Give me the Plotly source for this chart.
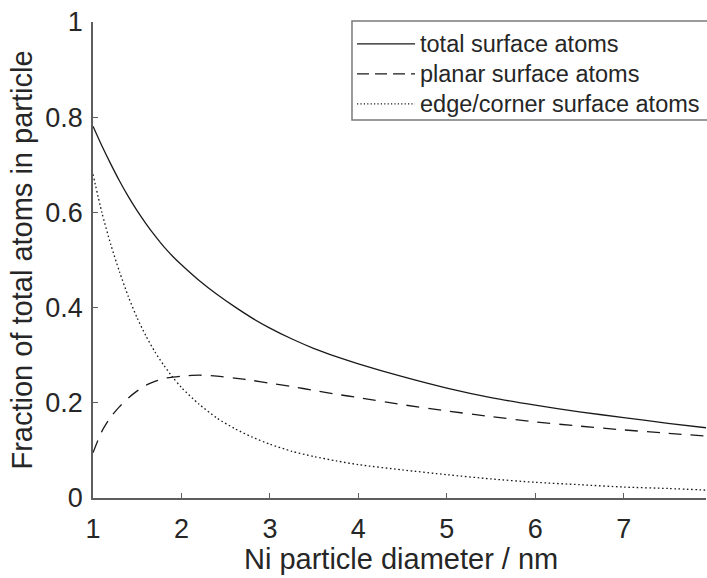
import plotly.graph_objects as go

# ---- data ----
diameter_nm = [1.0, 1.1, 1.2, 1.3, 1.4, 1.5, 1.6, 1.7, 1.8, 1.9, 2.0, 2.2, 2.4, 2.6,
               2.8, 3.0, 3.25, 3.5, 3.75, 4.0, 4.5, 5.0, 5.5, 6.0, 6.5, 7.0, 7.5, 8.0]
total_surface = [0.781, 0.740, 0.702, 0.666, 0.633, 0.603, 0.576, 0.551, 0.528, 0.508,
                 0.490, 0.457, 0.428, 0.402, 0.378, 0.357, 0.334, 0.314, 0.297, 0.282,
                 0.255, 0.231, 0.211, 0.195, 0.181, 0.169, 0.157, 0.146]
planar_surface = [0.095, 0.140, 0.170, 0.192, 0.210, 0.225, 0.237, 0.245, 0.251, 0.254,
                  0.256, 0.258, 0.256, 0.252, 0.247, 0.241, 0.234, 0.226, 0.218, 0.211,
                  0.196, 0.183, 0.171, 0.160, 0.151, 0.143, 0.136, 0.129]
edge_corner_surface = [0.680, 0.600, 0.533, 0.475, 0.423, 0.378, 0.340, 0.307, 0.279, 0.254,
                       0.232, 0.197, 0.168, 0.146, 0.128, 0.113, 0.098, 0.087, 0.078, 0.070,
                       0.059, 0.049, 0.040, 0.033, 0.028, 0.023, 0.020, 0.016]
series_names = ["total surface atoms", "planar surface atoms", "edge/corner surface atoms"]
x_tick_values = [1, 2, 3, 4, 5, 6, 7]
y_tick_values = [0, 0.2, 0.4, 0.6, 0.8, 1.0]
y_tick_labels = ["0", "0.2", "0.4", "0.6", "0.8", "1"]
x_title = "Ni particle diameter / nm"
y_title = "Fraction of total atoms in particle"

FONT = "Liberation Sans, Arial, Helvetica, sans-serif"
TXT = "#262626"
AX = "#5e5e5e"

series = [total_surface, planar_surface, edge_corner_surface]
dashes = ["solid", "13px,9px", "1.6px,2.6px"]
legend_dashes = ["solid", "12px,6px", "1.2px,2.2px"]

fig = go.Figure()
for name, ys, dash in zip(series_names, series, dashes):
    fig.add_trace(go.Scatter(
        x=diameter_nm, y=ys, name=name, mode="lines",
        line=dict(color="#1a1a1a", width=1.3, dash=dash, shape="spline", smoothing=0.7),
        showlegend=False,
    ))

# manual legend (box, line samples, labels) in paper coordinates
L, R, T, B = 0.4225, 1.003, 1.002, 0.794
fig.add_shape(type="rect", xref="paper", yref="paper", x0=L, x1=R, y0=B, y1=T,
              line=dict(color="#7a7a7a", width=1.5), fillcolor="white", layer="above")
row_y = [0.954, 0.891, 0.828]
for name, dash, yy in zip(series_names, legend_dashes, row_y):
    fig.add_shape(type="line", xref="paper", yref="paper", x0=0.4307, x1=0.5253,
                  y0=yy, y1=yy, line=dict(color="#1a1a1a", width=1.2, dash=dash), layer="above")
    fig.add_annotation(xref="paper", yref="paper", x=0.5300, y=yy, text=name,
                       showarrow=False, xanchor="left", yanchor="middle",
                       font=dict(family=FONT, size=23.5, color=TXT))

# x-axis title placed as annotation below the tick labels
fig.add_annotation(xref="paper", yref="paper", x=0.503, y=-0.129, text=x_title,
                   showarrow=False, xanchor="center", yanchor="middle", borderpad=0,
                   font=dict(family=FONT, size=29, color=TXT))

axis_common = dict(
    showline=True, linecolor=AX, linewidth=1.8, mirror=False,
    showgrid=False, zeroline=False, ticks="inside", ticklen=5, tickwidth=1.3,
    tickcolor=AX, tickfont=dict(family=FONT, size=27, color=TXT),
)
fig.update_xaxes(range=[1, 7.93], tickvals=x_tick_values, ticklabelstandoff=6,
                 **axis_common)
fig.update_yaxes(range=[0, 1], tickvals=y_tick_values, ticktext=y_tick_labels,
                 ticklabelstandoff=3,
                 title=dict(text=y_title, font=dict(family=FONT, size=29, color=TXT), standoff=4),
                 **axis_common)
fig.update_layout(
    width=707, height=578,
    margin=dict(l=93, r=1, t=22, b=80),
    paper_bgcolor="white", plot_bgcolor="white",
    font=dict(family=FONT, color=TXT),
)
fig.write_html("out.html", config={"displayModeBar": False},
               post_script="document.body.style.margin='0';")
